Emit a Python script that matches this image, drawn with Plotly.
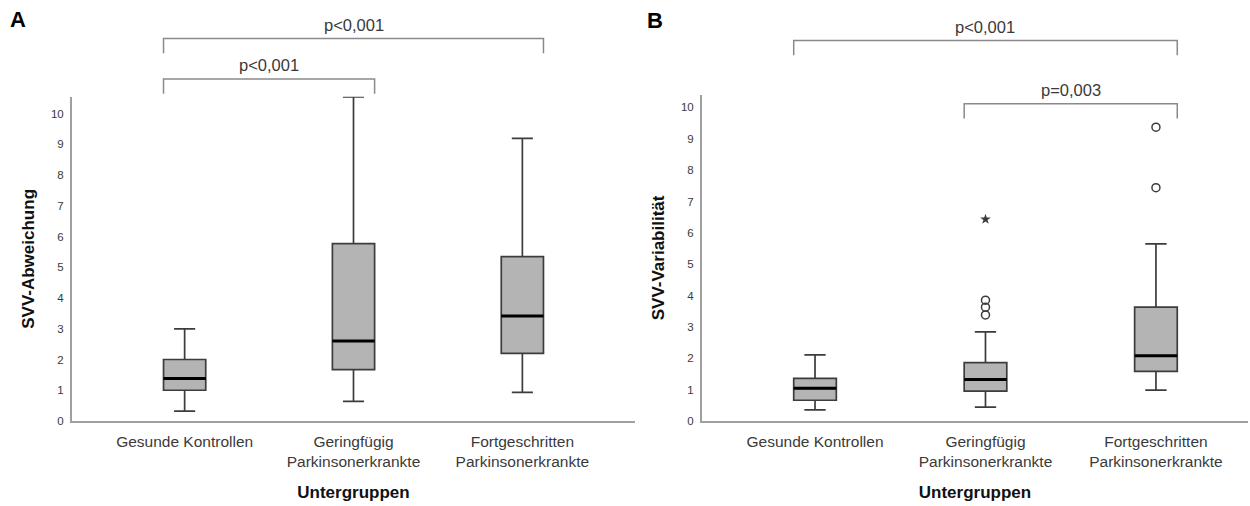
import plotly.graph_objects as go

categories = ["Gesunde Kontrollen", "Geringfügig<br>Parkinsonerkrankte", "Fortgeschritten<br>Parkinsonerkrankte"]
group_pos = [0, 1, 2]

# Panel A: SVV-Abweichung
a_lower = [0.32, 0.64, 0.93]
a_q1 = [1.0, 1.67, 2.2]
a_median = [1.38, 2.6, 3.42]
a_q3 = [2.0, 5.77, 5.35]
a_upper = [3.0, 10.55, 9.2]

# Panel B: SVV-Variabilität
b_lower = [0.35, 0.44, 0.98]
b_q1 = [0.66, 0.95, 1.58]
b_median = [1.04, 1.32, 2.08]
b_q3 = [1.36, 1.86, 3.63]
b_upper = [2.11, 2.84, 5.65]
b_out_x = [1, 1, 1, 2, 2]
b_out_y = [3.38, 3.63, 3.85, 7.44, 9.37]
b_ext_x = [1]
b_ext_y = [6.43]

BOX_W = 0.25
FILL = "#b4b4b4"
EDGE = "#3c3c3c"
AXC = "#a0a0a0"
FONT = "Liberation Sans"

fig = go.Figure()


def add_panel(xa, ya, lower, q1, med, q3, upper):
    fig.add_trace(go.Box(
        x=group_pos, q1=q1, median=med, q3=q3, lowerfence=lower, upperfence=upper,
        width=BOX_W, whiskerwidth=0.5, fillcolor=FILL,
        line=dict(color=EDGE, width=1.7), boxpoints=False,
        xaxis=xa, yaxis=ya, showlegend=False, hoverinfo="skip"))
    for g, m in zip(group_pos, med):
        fig.add_trace(go.Scatter(
            x=[g - BOX_W / 2, g + BOX_W / 2], y=[m, m], mode="lines",
            line=dict(color="black", width=3), xaxis=xa, yaxis=ya,
            showlegend=False, hoverinfo="skip"))


add_panel("x", "y", a_lower, a_q1, a_median, a_q3, a_upper)
add_panel("x2", "y2", b_lower, b_q1, b_median, b_q3, b_upper)

fig.add_trace(go.Scatter(
    x=b_out_x, y=b_out_y, mode="markers", xaxis="x2", yaxis="y2",
    marker=dict(symbol="circle-open", size=8, color=EDGE, line=dict(width=1.5)),
    showlegend=False, hoverinfo="skip"))
fig.add_trace(go.Scatter(
    x=b_ext_x, y=b_ext_y, mode="markers", xaxis="x2", yaxis="y2",
    marker=dict(symbol="star", size=8, color=EDGE, line=dict(width=0)),
    showlegend=False, hoverinfo="skip"))

TITLE_FONT = dict(family=FONT, size=17, color="#111")

xcommon = dict(
    tickmode="array", tickvals=group_pos, ticktext=categories,
    showline=True, linecolor=AXC, linewidth=2, showgrid=False, zeroline=False,
    ticks="outside", ticklen=5, tickcolor="rgba(0,0,0,0)",
    tickfont=dict(family=FONT, size=15.5, color="#3a3a3a"),
    title=dict(text="<b>Untergruppen</b>", font=TITLE_FONT, standoff=17),
)
ycommon = dict(
    tickmode="linear", tick0=0, dtick=1,
    showline=True, linecolor=AXC, linewidth=2, showgrid=False, zeroline=False,
    ticks="outside", ticklen=4, tickcolor="rgba(0,0,0,0)",
    tickfont=dict(family=FONT, size=11.5, color="#3a3a3a"),
)

fig.update_layout(
    width=1250, height=506, margin=dict(l=0, r=0, t=0, b=0),
    paper_bgcolor="white", plot_bgcolor="white",
    xaxis=dict(domain=[72 / 1250, 635 / 1250], range=[-0.667, 2.667], anchor="y", **xcommon),
    yaxis=dict(domain=[1 - 426 / 506, 1 - 98 / 506], range=[0, 10.55], anchor="x",
               title=dict(text="<b>SVV-Abweichung</b>", font=TITLE_FONT, standoff=12),
               **ycommon),
    xaxis2=dict(domain=[702 / 1250, 1248 / 1250], range=[-0.663, 2.54], anchor="y2", **xcommon),
    yaxis2=dict(domain=[1 - 426 / 506, 1 - 96 / 506], range=[0, 10.4], anchor="x2",
                title=dict(text="<b>SVV-Variabilität</b>", font=TITLE_FONT, standoff=12),
                **ycommon),
)

# significance brackets: (x-axis, from group, to group, bracket y px, label)
brackets = [
    ("x", 0, 2, 39, "p<0,001"),
    ("x", 0, 1, 80, "p<0,001"),
    ("x2", 0, 2, 41, "p<0,001"),
    ("x2", 1, 2, 105, "p=0,003"),
]
for xr, g0, g1, ypx, label in brackets:
    x0 = g0 - BOX_W / 2
    x1 = g1 + BOX_W / 2
    ytop = 1 - ypx / 506
    ybot = 1 - (ypx + 15) / 506
    fig.add_shape(type="path", xref=xr, yref="paper",
                  path=f"M {x0},{ybot} L {x0},{ytop} L {x1},{ytop} L {x1},{ybot}",
                  line=dict(color="#8a8a8a", width=1.5))
    fig.add_annotation(x=(x0 + x1) / 2, y=ytop, xref=xr, yref="paper", text=label,
                       showarrow=False, yanchor="bottom", yshift=3,
                       font=dict(family=FONT, size=16.5, color="#3a3a3a"))

fig.add_annotation(x=18 / 1250, y=1 - 20 / 506, xref="paper", yref="paper", text="<b>A</b>",
                   showarrow=False, xanchor="center", yanchor="middle",
                   font=dict(family=FONT, size=22, color="black"))
fig.add_annotation(x=655 / 1250, y=1 - 21 / 506, xref="paper", yref="paper", text="<b>B</b>",
                   showarrow=False, xanchor="center", yanchor="middle",
                   font=dict(family=FONT, size=22, color="black"))

fig.write_html("out.html", config={"displayModeBar": False},
               post_script="document.body.style.margin='0';document.body.style.overflow='hidden';")
